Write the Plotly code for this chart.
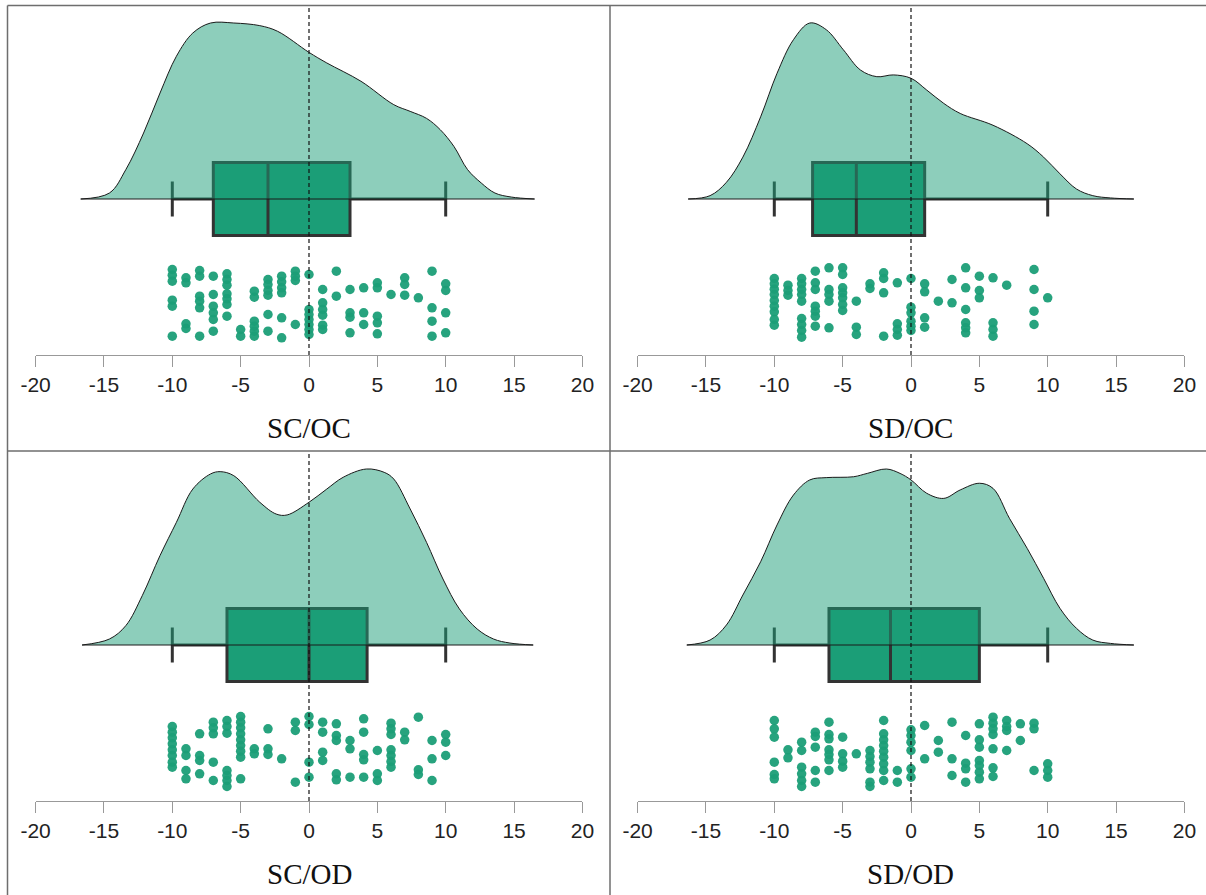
import plotly.graph_objects as go

# ---------------- data ----------------
panel_titles = ["SC/OC", "SD/OC", "SC/OD", "SD/OD"]

tick_vals = [-20, -15, -10, -5, 0, 5, 10, 15, 20]
tick_text = ["-20", "-15", "-10", "-5", "0", "5", "10", "15", "20"]

# density curves (relative height, max = 1)
sc_oc_dens_x = [-16.7, -14.6, -13.4, -12.1, -10.9, -9.7, -8.5, -7.2, -5.5, -3.6, -2.3, 0, 1.3, 3.8, 6.2, 7.4, 8.6, 9.6, 10.6, 11.6, 12.6, 13.6, 14.8, 16.5]
sc_oc_dens_y = [0, 0.034, 0.167, 0.375, 0.602, 0.811, 0.943, 1.0, 1.0, 0.985, 0.953, 0.833, 0.773, 0.669, 0.536, 0.498, 0.458, 0.394, 0.299, 0.167, 0.091, 0.034, 0.011, 0]

sd_oc_dens_x = [-16.3, -14.7, -13.5, -12.3, -11.0, -9.8, -8.6, -7.4, -6.2, -4.95, -3.7, -2.5, -1.3, 0, 1.15, 2.4, 3.6, 6.0, 8.5, 9.7, 10.9, 12.1, 13.3, 14.6, 16.3]
sd_oc_dens_y = [0, 0.019, 0.095, 0.238, 0.467, 0.714, 0.905, 1.0, 0.962, 0.848, 0.733, 0.695, 0.705, 0.686, 0.619, 0.543, 0.486, 0.419, 0.314, 0.238, 0.143, 0.057, 0.019, 0.006, 0]

sc_od_dens_x = [-16.6, -14.6, -13.4, -12.2, -10.9, -9.7, -8.5, -7.2, -6.5, -5.5, -3.6, -2.4, -1.6, 0, 1.3, 2.5, 4.2, 5.5, 6.2, 7.4, 8.6, 9.8, 11.0, 12.3, 13.5, 14.7, 16.4]
sc_od_dens_y = [0, 0.034, 0.110, 0.280, 0.508, 0.697, 0.886, 0.972, 0.985, 0.962, 0.811, 0.744, 0.739, 0.811, 0.886, 0.953, 1.0, 0.981, 0.943, 0.773, 0.583, 0.375, 0.205, 0.091, 0.034, 0.011, 0]

sd_od_dens_x = [-16.4, -14.7, -13.5, -12.3, -11.0, -9.8, -8.6, -7.4, -6.2, -4.2, -3.2, -1.8, -0.8, 0, 1.15, 2.4, 3.6, 5.0, 6.0, 7.2, 8.5, 9.7, 10.9, 12.1, 13.3, 14.6, 16.3]
sd_od_dens_y = [0, 0.028, 0.114, 0.284, 0.473, 0.682, 0.852, 0.938, 0.951, 0.956, 0.975, 1.0, 0.975, 0.938, 0.862, 0.833, 0.881, 0.919, 0.890, 0.720, 0.549, 0.379, 0.208, 0.095, 0.028, 0.009, 0]

# box statistics: lower whisker, Q1, median, Q3, upper whisker
sc_oc_box = [-10, -7, -3, 3, 10]
sd_oc_box = [-10, -7.2, -4, 1, 10]
sc_od_box = [-10, -6, 0, 4.25, 10]
sd_od_box = [-10, -6, -1.5, 5, 10]

# raw scores -> jitter depth within the rain band (0 = top, 260 = bottom)
sc_oc_pts = {
    -10: [45, 62, 80, 137, 155, 245], -9: [70, 85, 208, 222], -8: [48, 65, 125, 140, 160, 245],
    -7: [65, 120, 155, 175, 195, 230], -6: [58, 75, 92, 118, 133, 150, 185], -5: [225, 245],
    -4: [110, 128, 200, 215, 230, 245], -3: [75, 90, 108, 122, 180, 230], -2: [65, 82, 100, 115, 190, 250],
    -1: [50, 65, 78, 210], 0: [60, 165, 180, 195, 210, 225, 240], 1: [105, 145, 165, 182, 212, 225],
    2: [50, 125], 3: [105, 175, 188, 235], 4: [100, 175, 210], 5: [85, 100, 185, 205, 238],
    6: [120], 7: [70, 90, 122], 8: [130], 9: [50, 160, 200, 245], 10: [88, 108, 175, 235],
}
sd_oc_pts = {
    -10: [72, 88, 104, 120, 138, 155, 172, 195, 212], -9: [92, 108, 122],
    -8: [72, 88, 105, 120, 140, 192, 210, 228, 248], -7: [50, 85, 105, 155, 170, 185, 215],
    -6: [40, 105, 120, 140, 220], -5: [40, 60, 100, 115, 130, 150, 168], -4: [140, 218, 240],
    -3: [88, 102], -2: [55, 72, 115, 245], -1: [85, 208, 225, 242], 0: [72, 158, 175, 200, 215, 228],
    1: [88, 112, 190, 218], 2: [140], 3: [75, 145], 4: [40, 100, 165, 205, 220, 235],
    5: [65, 108, 130], 6: [70, 205, 225, 245], 7: [92], 9: [45, 105, 170, 210], 10: [130],
}
sc_od_pts = {
    -10: [78, 95, 112, 130, 148, 165, 185, 200], -9: [145, 165, 210, 235], -8: [100, 165, 180, 220],
    -7: [65, 82, 100, 185, 240], -6: [60, 78, 98, 210, 225, 240, 258],
    -5: [48, 65, 82, 100, 118, 135, 152, 170, 235], -4: [145, 160], -3: [85, 145, 162], -2: [175],
    -1: [65, 90, 245], 0: [48, 72, 185, 230], 1: [65, 95, 155, 180], 2: [70, 105, 120, 220, 238],
    3: [120, 145, 230], 4: [55, 95, 162, 178, 230], 5: [150, 220, 240],
    6: [68, 85, 102, 148, 165, 183, 200], 7: [95, 118], 8: [50, 208, 222], 9: [120, 175, 240],
    10: [102, 125, 165],
}
sd_od_pts = {
    -10: [60, 85, 110, 185, 222, 235], -9: [148, 172], -8: [125, 150, 200, 220, 240, 258],
    -7: [95, 108, 140, 210, 245], -6: [65, 102, 115, 148, 162, 178, 210], -5: [110, 160, 182, 200],
    -4: [160], -3: [150, 168, 185, 205, 245, 258], -2: [60, 100, 118, 135, 152, 170, 190, 210, 240],
    -1: [210, 245], 0: [88, 105, 125, 150, 205, 230], 1: [75, 175], 2: [120, 155], 3: [65, 175, 225],
    4: [105, 188, 205, 245], 5: [70, 118, 140, 180, 195, 215, 235], 6: [50, 68, 85, 102, 145, 202, 228],
    7: [60, 78, 90, 150], 8: [70, 120], 9: [68, 85, 210], 10: [190, 210, 230],
}

# ---------------- layout constants ----------------
W, H = 1206, 895
TEAL = "#1B9E77"
CLOUD = "rgba(27,158,119,0.5)"
DARK = "#333333"
BASE = 156      # density baseline (px above axis line)
HMAX = 176      # density max height in px
BOX_W = 73
RAIN_TOP = 100.5

panels = [
    dict(title=panel_titles[0], dx=sc_oc_dens_x, dy=sc_oc_dens_y, box=sc_oc_box, pts=sc_oc_pts, x0=35.6, axis_y=355),
    dict(title=panel_titles[1], dx=sd_oc_dens_x, dy=sd_oc_dens_y, box=sd_oc_box, pts=sd_oc_pts, x0=637.6, axis_y=355),
    dict(title=panel_titles[2], dx=sc_od_dens_x, dy=sc_od_dens_y, box=sc_od_box, pts=sc_od_pts, x0=35.6, axis_y=801),
    dict(title=panel_titles[3], dx=sd_od_dens_x, dy=sd_od_dens_y, box=sd_od_box, pts=sd_od_pts, x0=637.6, axis_y=801),
]
AX_LEN = 546.8
Y_SPAN = 350

fig = go.Figure()
layout = dict(
    width=W, height=H, margin=dict(l=0, r=0, t=0, b=0, pad=0, autoexpand=False),
    paper_bgcolor="white", plot_bgcolor="white", showlegend=False,
)
shapes = []
annotations = []

for i, p in enumerate(panels, start=1):
    xa = "x" if i == 1 else f"x{i}"
    ya = "y" if i == 1 else f"y{i}"
    # cloud (density)
    fig.add_trace(go.Scatter(
        x=p["dx"], y=[BASE + v * HMAX for v in p["dy"]],
        mode="lines", line=dict(color="#1a1a1a", width=1, shape="spline", smoothing=1.0),
        fill="toself", fillcolor=CLOUD, xaxis=xa, yaxis=ya, hoverinfo="skip"))
    fig.add_trace(go.Scatter(
        x=[p["dx"][0], p["dx"][-1]], y=[BASE, BASE], mode="lines",
        line=dict(color="#1a1a1a", width=1), xaxis=xa, yaxis=ya, hoverinfo="skip"))
    # box
    lo, q1, med, q3, hi = p["box"]
    fig.add_trace(go.Box(
        orientation="h", y=[BASE], q1=[q1], median=[med], q3=[q3],
        lowerfence=[lo], upperfence=[hi], width=BOX_W, whiskerwidth=0.48,
        fillcolor=TEAL, line=dict(color=DARK, width=3), boxpoints=False,
        xaxis=xa, yaxis=ya))
    # rain (points)
    xs, ys = [], []
    for val, depths in p["pts"].items():
        for d in depths:
            xs.append(val)
            ys.append(RAIN_TOP - d / 3.0)
    fig.add_trace(go.Scatter(
        x=xs, y=ys, mode="markers",
        marker=dict(color=TEAL, size=9.5, opacity=0.95, line=dict(width=0)),
        xaxis=xa, yaxis=ya))
    # axes
    xdom = [p["x0"] / W, (p["x0"] + AX_LEN) / W]
    ydom = [1 - p["axis_y"] / H, 1 - (p["axis_y"] - Y_SPAN) / H]
    layout["xaxis" if i == 1 else f"xaxis{i}"] = dict(
        domain=xdom, anchor=ya, range=[-20, 20], showgrid=False, zeroline=False,
        showline=True, linecolor="#999999", linewidth=1, automargin=False,
        ticks="outside", ticklen=11, tickwidth=1, tickcolor="#999999",
        tickvals=tick_vals, ticktext=tick_text,
        tickfont=dict(family="Liberation Sans Narrow, Arial Narrow, Liberation Sans, Arial", size=21, color="#222222"),
        fixedrange=True)
    layout["yaxis" if i == 1 else f"yaxis{i}"] = dict(
        domain=ydom, anchor=xa, range=[0, Y_SPAN], visible=False, automargin=False, fixedrange=True)
    # dashed zero line
    shapes.append(dict(type="line", xref=xa, yref=ya, x0=0, x1=0, y0=0, y1=Y_SPAN,
                       line=dict(color="#111111", width=1.2, dash="4px,3px"), layer="above"))
    # panel label
    annotations.append(dict(text=p["title"], xref=xa, yref="paper", x=0,
                            y=1 - (p["axis_y"] + 73) / H, xanchor="center", yanchor="middle",
                            showarrow=False,
                            font=dict(family="Liberation Serif, Times New Roman, serif", size=29, color="#111111")))

# panel frame lines
frame = "#6e6e6e"
shapes += [
    dict(type="line", xref="paper", yref="paper", x0=7.5 / W, x1=7.5 / W, y0=0, y1=1 - 5.5 / H, line=dict(color=frame, width=1.5)),
    dict(type="line", xref="paper", yref="paper", x0=7.5 / W, x1=1, y0=1 - 5.5 / H, y1=1 - 5.5 / H, line=dict(color=frame, width=1.5)),
    dict(type="line", xref="paper", yref="paper", x0=610 / W, x1=610 / W, y0=0, y1=1 - 5.5 / H, line=dict(color=frame, width=1.5)),
    dict(type="line", xref="paper", yref="paper", x0=7.5 / W, x1=1, y0=1 - 451 / H, y1=1 - 451 / H, line=dict(color=frame, width=1.5)),
]
layout["shapes"] = shapes
layout["annotations"] = annotations
fig.update_layout(**layout)

fig.write_html(
    "out.html",
    config={"displayModeBar": False},
    post_script="document.body.style.margin='0';document.body.style.padding='0';"
                "document.documentElement.style.overflow='hidden';",
)
